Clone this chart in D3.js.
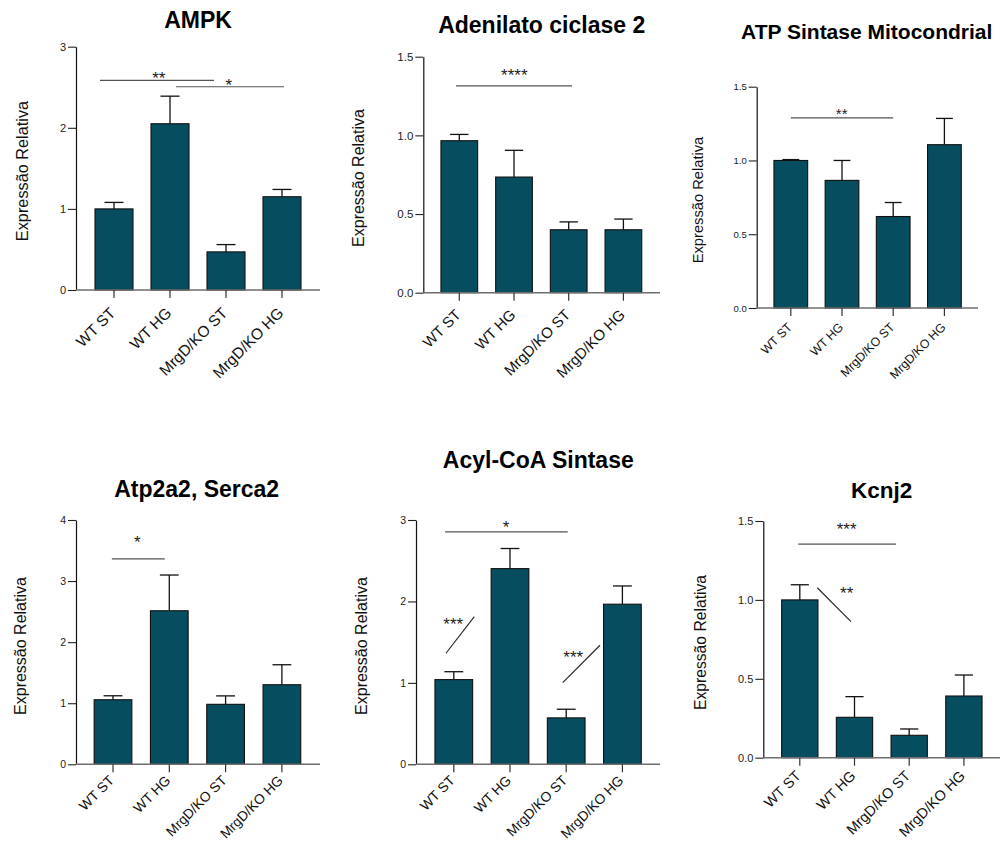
<!DOCTYPE html>
<html>
<head>
<meta charset="utf-8">
<script src="https://cdn.jsdelivr.net/npm/d3@7/dist/d3.min.js"></script>
<style>
  body { margin: 0; background: #fff; }
  text { font-family: "Liberation Sans", Arial, Helvetica, sans-serif; }
</style>
</head>
<body>
<svg id="fig" width="1000" height="843"></svg>
<script>
// Groups shared by every panel
const groups = ["WT ST", "WT HG", "MrgD/KO ST", "MrgD/KO HG"];

// Mean relative expression and SEM per gene
const ampkMean = [1.00, 2.05, 0.47, 1.15];
const ampkSem  = [0.08, 0.34, 0.09, 0.09];
const ampkTicks = [0, 1, 2, 3];

const adcyMean = [0.966, 0.735, 0.40, 0.40];
const adcySem  = [0.040, 0.170, 0.050, 0.068];
const adcyTicks = [0, 0.5, 1.0, 1.5];

const atpMean = [1.00, 0.865, 0.62, 1.107];
const atpSem  = [0.006, 0.135, 0.095, 0.178];
const atpTicks = [0, 0.5, 1.0, 1.5];

const sercaMean = [1.057, 2.514, 0.982, 1.303];
const sercaSem  = [0.065, 0.585, 0.138, 0.327];
const sercaTicks = [0, 1, 2, 3, 4];

const acylMean = [1.04, 2.403, 0.57, 1.966];
const acylSem  = [0.097, 0.247, 0.106, 0.224];
const acylTicks = [0, 1, 2, 3];

const kcnjMean = [1.00, 0.256, 0.142, 0.391];
const kcnjSem  = [0.096, 0.131, 0.040, 0.133];
const kcnjTicks = [0, 0.5, 1.0, 1.5];

// Significance marks: x in group-index units, y in expression units
const ampkSig = [
  { type: "h", x1: -0.25, x2: 1.786, y: 2.584, label: "**", lx: 0.80, ly: 2.654 },
  { type: "h", x1: 1.107, x2: 3.036, y: 2.506, label: "*", lx: 2.05, ly: 2.568 }
];
const adcySig = [
  { type: "h", x1: -0.06, x2: 2.06, y: 1.314, label: "****", lx: 1.005, ly: 1.405 }
];
const atpSig = [
  { type: "h", x1: 0.0, x2: 2.0, y: 1.289, label: "**", lx: 0.994, ly: 1.335 }
];
const sercaSig = [
  { type: "h", x1: -0.02, x2: 0.92, y: 3.365, label: "*", lx: 0.43, ly: 3.687 }
];
const acylSig = [
  { type: "h", x1: -0.157, x2: 2.027, y: 2.854, label: "*", lx: 0.929, ly: 2.952 },
  { type: "d", x1: -0.139, x2: 0.365, y1: 1.364, y2: 1.813, label: "***", lx: -0.01, ly: 1.764 },
  { type: "d", x1: 1.938, x2: 2.601, y1: 1.002, y2: 1.462, label: "***", lx: 2.126, ly: 1.364 }
];
const kcnjSig = [
  { type: "h", x1: -0.027, x2: 1.759, y: 1.354, label: "***", lx: 0.857, ly: 1.468 },
  { type: "d", x1: 0.32, x2: 0.936, y1: 1.077, y2: 0.862, label: "**", lx: 0.857, ly: 1.067 }
];

const titles = ["AMPK", "Adenilato ciclase 2", "ATP Sintase Mitocondrial",
                "Atp2a2, Serca2", "Acyl-CoA Sintase", "Kcnj2"];
const yTitle = "Expressão Relativa";

// Panel geometry (pixels) and type sizes
const panels = [
  { mean: ampkMean, sem: ampkSem, ticks: ampkTicks, sig: ampkSig, fmt: d3.format("d"),
    ax: 76, zero: 290, top: 46.7, xEnd: 320, c0: 114, step: 56, bw: 38,
    tickFs: 11, xFs: 15.5, xLab: [2.5, 24], yFs: 16.3, yTx: 22, yTy: 171,
    title: { x: 198, y: 28, fs: 23 }, sigFs: 17 },
  { mean: adcyMean, sem: adcySem, ticks: adcyTicks, sig: adcySig, fmt: d3.format(".1f"),
    ax: 423.3, zero: 292.7, top: 56.7, xEnd: 660, c0: 459.3, step: 54.7, bw: 36.7,
    tickFs: 11.5, xFs: 15, xLab: [2.5, 23], yFs: 16, yTx: 358, yTy: 178,
    title: { x: 541.7, y: 33.3, fs: 23 }, sigFs: 17 },
  { mean: atpMean, sem: atpSem, ticks: atpTicks, sig: atpSig, fmt: d3.format(".1f"),
    ax: 756.7, zero: 308, top: 86.7, xEnd: 978, c0: 790.8, step: 51.2, bw: 33.7,
    tickFs: 9.5, xFs: 12.3, xLab: [2, 20], yFs: 14.7, yTx: 698, yTy: 200,
    title: { x: 866.7, y: 39.3, fs: 21 }, sigFs: 15 },
  { mean: sercaMean, sem: sercaSem, ticks: sercaTicks, sig: sercaSig, fmt: d3.format("d"),
    ax: 76, zero: 764.3, top: 520, xEnd: 320, c0: 113, step: 56.3, bw: 37.7,
    tickFs: 10.5, xFs: 13.8, xLab: [2, 17], yFs: 16, yTx: 20.7, yTy: 646,
    title: { x: 196.7, y: 496.7, fs: 23 }, sigFs: 17 },
  { mean: acylMean, sem: acylSem, ticks: acylTicks, sig: acylSig, fmt: d3.format("d"),
    ax: 416, zero: 764.3, top: 520, xEnd: 660, c0: 453.8, step: 56.2, bw: 37.7,
    tickFs: 10.5, xFs: 13.8, xLab: [2, 17], yFs: 16, yTx: 361.7, yTy: 646,
    title: { x: 538.3, y: 468.3, fs: 23 }, sigFs: 17 },
  { mean: kcnjMean, sem: kcnjSem, ticks: kcnjTicks, sig: kcnjSig, fmt: d3.format(".1f"),
    ax: 763.3, zero: 757.7, top: 521, xEnd: 1000, c0: 799.8, step: 54.7, bw: 36.3,
    tickFs: 11, xFs: 14.5, xLab: [2, 19], yFs: 15.7, yTx: 700, yTy: 642.5,
    title: { x: 881.7, y: 498.3, fs: 22.5 }, sigFs: 17 }
];

const barFill = "#064e5f";
const svg = d3.select("#fig");

panels.forEach((p, k) => {
  const g = svg.append("g");
  const yMax = p.ticks[p.ticks.length - 1];

  const y = d3.scaleLinear().domain([0, yMax]).range([p.zero, p.top]);
  const pad = 1 - p.bw / p.step;
  const x = d3.scaleBand().domain(groups)
    .range([p.c0 - p.step / 2, p.c0 - p.step / 2 + groups.length * p.step])
    .paddingInner(pad).paddingOuter(pad / 2);
  const cx = d => x(d) + x.bandwidth() / 2;
  const xi = d3.scaleLinear().domain([0, groups.length - 1])
    .range([cx(groups[0]), cx(groups[groups.length - 1])]);

  const rows = groups.map((name, i) => ({ name, mean: p.mean[i], sem: p.sem[i] }));

  // bars
  g.selectAll("rect.bar").data(rows).join("rect")
    .attr("class", "bar")
    .attr("x", d => x(d.name))
    .attr("y", d => y(d.mean))
    .attr("width", x.bandwidth())
    .attr("height", d => y(0) - y(d.mean))
    .attr("fill", barFill)
    .attr("stroke", "#111")
    .attr("stroke-width", 1.1);

  // upward SEM whiskers with caps
  g.selectAll("line.err").data(rows).join("line")
    .attr("class", "err")
    .attr("x1", d => cx(d.name)).attr("x2", d => cx(d.name))
    .attr("y1", d => y(d.mean)).attr("y2", d => y(d.mean + d.sem))
    .attr("stroke", "#111").attr("stroke-width", 1.3);
  g.selectAll("line.cap").data(rows).join("line")
    .attr("class", "cap")
    .attr("x1", d => cx(d.name) - x.bandwidth() / 4)
    .attr("x2", d => cx(d.name) + x.bandwidth() / 4)
    .attr("y1", d => y(d.mean + d.sem)).attr("y2", d => y(d.mean + d.sem))
    .attr("stroke", "#111").attr("stroke-width", 1.3);

  // y axis
  const yAxis = g.append("g")
    .attr("transform", `translate(${p.ax},0)`)
    .call(d3.axisLeft(y).tickValues(p.ticks).tickFormat(p.fmt)
      .tickSize(8).tickSizeOuter(0).tickPadding(2));
  yAxis.select(".domain").attr("stroke", "#111").attr("stroke-width", 1.2);
  yAxis.selectAll(".tick line").attr("stroke", "#222").attr("stroke-width", 1.1);
  yAxis.selectAll(".tick text").attr("font-size", p.tickFs).attr("fill", "#222")
    .style("font-family", "'Liberation Sans', Arial, sans-serif");

  // x axis
  const xAxis = g.append("g")
    .attr("transform", `translate(0,${p.zero})`)
    .call(d3.axisBottom(x).tickSize(8).tickSizeOuter(0).tickPadding(0));
  xAxis.select(".domain")
    .attr("d", `M${p.ax},0H${p.xEnd}`)
    .attr("stroke", "#6e6e6e").attr("stroke-width", 1.4);
  xAxis.selectAll(".tick line").attr("stroke", "#333").attr("stroke-width", 1.2);
  xAxis.selectAll(".tick text")
    .attr("font-size", p.xFs).attr("fill", "#111")
    .style("font-family", "'Liberation Sans', Arial, sans-serif")
    .attr("text-anchor", "end")
    .attr("dy", 0)
    .attr("y", 0)
    .attr("transform", `translate(${p.xLab[0]},${p.xLab[1]}) rotate(-45)`);

  // y title
  g.append("text")
    .attr("transform", `translate(${p.yTx},${p.yTy}) rotate(-90)`)
    .attr("text-anchor", "middle")
    .attr("dy", "0.35em")
    .attr("font-size", p.yFs)
    .attr("fill", "#111")
    .text(yTitle);

  // panel title
  g.append("text")
    .attr("x", p.title.x).attr("y", p.title.y)
    .attr("text-anchor", "middle")
    .attr("font-size", p.title.fs)
    .attr("font-weight", "bold")
    .attr("fill", "#000")
    .text(titles[k]);

  // significance marks
  p.sig.forEach(s => {
    if (s.type === "h") {
      g.append("line")
        .attr("x1", xi(s.x1)).attr("x2", xi(s.x2))
        .attr("y1", y(s.y)).attr("y2", y(s.y))
        .attr("stroke", "#555").attr("stroke-width", 1.2);
    } else {
      g.append("line")
        .attr("x1", xi(s.x1)).attr("x2", xi(s.x2))
        .attr("y1", y(s.y1)).attr("y2", y(s.y2))
        .attr("stroke", "#222").attr("stroke-width", 1.1);
    }
    g.append("text")
      .attr("x", xi(s.lx))
      .attr("y", y(s.ly) + p.sigFs * 0.55)
      .attr("text-anchor", "middle")
      .attr("font-size", p.sigFs)
      .attr("fill", "#222")
      .text(s.label);
  });
});
</script>
</body>
</html>
